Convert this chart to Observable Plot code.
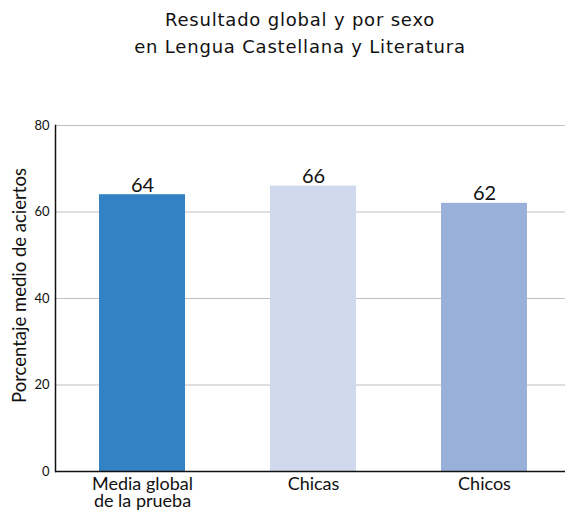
<!DOCTYPE html>
<html>
<head>
<meta charset="utf-8">
<script src="https://cdn.jsdelivr.net/npm/d3@7"></script>
<script src="https://cdn.jsdelivr.net/npm/@observablehq/plot@0.6"></script>
<style>
  html, body { margin: 0; padding: 0; background: #fff; overflow: hidden; }
  #title { box-sizing: border-box; width: 565px; height: 100px; padding: 6px 0 0 35px;
    text-align: center; font-family: "DejaVu Sans", sans-serif; font-size: 18px; letter-spacing: 0.8px;
    line-height: 27px; color: #111; }
  #chart svg { display: block; }
</style>
</head>
<body>
<div id="title">Resultado global y por sexo<br>en Lengua Castellana y Literatura</div>
<div id="chart"></div>
<script>
const categories = ["Media global\nde la prueba", "Chicas", "Chicos"];
const values = [64, 66, 62];
const colors = ["#3282c4", "#d0d9ee", "#99b1da"];
const yTicks = [0, 20, 40, 60, 80];
const yLabel = "Porcentaje medio de aciertos";

const data = categories.map((c, i) => ({cat: c, value: values[i], color: colors[i]}));

const chart = Plot.plot({
  width: 565,
  height: 410,
  marginTop: 25,
  marginBottom: 39,
  marginLeft: 55,
  marginRight: 0,
  style: {fontFamily: "Lato, sans-serif", color: "#111", background: "#fff"},
  x: {domain: categories, range: [55, 569.5], paddingInner: 0.5, paddingOuter: 0.25, label: null},
  y: {domain: [0, 80], label: null},
  marks: [
    Plot.gridY(yTicks.filter(d => d > 0), {stroke: "#c0c0c0", strokeOpacity: 1, strokeWidth: 1.2}),
    Plot.barY(data, {x: "cat", y: "value", fill: "color"}),
    Plot.text(data, {x: "cat", y: "value", text: d => String(d.value), lineAnchor: "bottom", dy: -3, fontSize: 20, fill: "#111"}),
    Plot.axisY(yTicks, {tickSize: 0, tickPadding: 6, fontSize: 13, label: null}),
    Plot.text([yLabel], {frameAnchor: "left", textAnchor: "middle", lineAnchor: "middle", rotate: -90, dx: -35, dy: -13, fontSize: 18.5, fill: "#111"}),
    Plot.axisX({tickSize: 0, tickPadding: 7, fontSize: 18, lineHeight: 0.93}),
    Plot.ruleY([0], {stroke: "#111", strokeWidth: 1.5}),
    Plot.frame({anchor: "left", stroke: "#111", strokeWidth: 1.5})
  ]
});
document.getElementById("chart").appendChild(chart);
</script>
</body>
</html>
